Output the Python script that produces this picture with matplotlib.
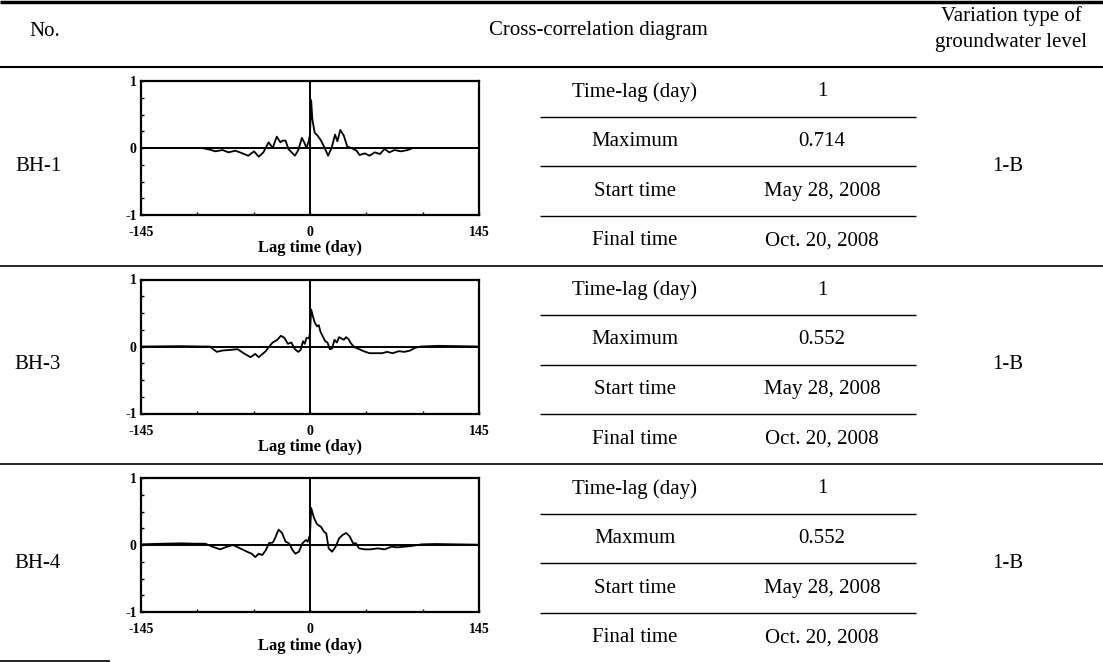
import matplotlib

matplotlib.use("Agg")
import matplotlib.pyplot as plt
from matplotlib.ticker import FixedLocator

plt.rcParams["font.family"] = ["Liberation Serif", "DejaVu Serif"]
plt.rcParams["axes.unicode_minus"] = False

# table contents
wells = ["BH-1", "BH-3", "BH-4"]
item_labels = [
    ["Time-lag (day)", "Maximum", "Start time", "Final time"],
    ["Time-lag (day)", "Maximum", "Start time", "Final time"],
    ["Time-lag (day)", "Maxmum", "Start time", "Final time"],
]
time_lag = ["1", "1", "1"]
maximum = ["0.714", "0.552", "0.552"]
start_time = ["May 28, 2008", "May 28, 2008", "May 28, 2008"]
final_time = ["Oct. 20, 2008", "Oct. 20, 2008", "Oct. 20, 2008"]
variation_type = ["1-B", "1-B", "1-B"]

# cross-correlation curves
bh1_lag = [-145, -93, -87, -81, -75, -70, -64, -58, -53, -48, -44, -40, -35.5, -32, -28.5, -25.5, -23.5,
           -21, -18.5, -13, -10, -7, -5, -3, -1, 0, 1, 2, 4, 6.5, 9.5, 13, 15.5, 18.5, 21.5, 23.5, 26,
           29, 32, 35.5, 40, 42.5, 47, 51, 55.5, 60, 64, 68, 72.5, 78, 84, 88, 92, 145]
bh1_ccf = [0.0, 0.0, -0.02, -0.05, -0.03, -0.065, -0.04, -0.08, -0.115, -0.05, -0.13, -0.065, 0.085, 0.0,
           0.17, 0.085, 0.11, 0.11, -0.015, -0.115, -0.03, 0.15, 0.085, 0.0, 0.11, 0.2, 0.714, 0.43, 0.23,
           0.185, 0.11, -0.015, -0.115, 0.0, 0.2, 0.1, 0.27, 0.185, 0.02, 0.0, -0.04, -0.105, -0.08,
           -0.115, -0.065, -0.09, -0.015, -0.065, -0.03, -0.05, -0.03, 0.0, 0.0, 0.0]

bh3_lag = [-145, -110, -93, -86, -80, -75, -68, -62, -57, -51, -47, -44, -38, -35, -32, -28, -25, -22,
           -19, -16, -13, -10, -8, -6, -4.5, -3, -1, 0, 1, 2.5, 4, 6, 7.5, 9, 11, 13, 15, 17, 19, 21, 23,
           25, 27, 29, 31, 33, 35, 38, 41, 46, 51, 56, 62, 66, 71, 76, 81, 86, 90, 95, 110, 145]
bh3_ccf = [0.0, 0.005, 0.0, 0.0, -0.08, -0.06, -0.05, -0.04, -0.1, -0.16, -0.11, -0.16, -0.07, 0.0, 0.06,
           0.1, 0.16, 0.13, 0.04, 0.06, -0.04, -0.08, -0.05, 0.08, 0.04, 0.13, 0.12, 0.2, 0.552, 0.45,
           0.36, 0.3, 0.32, 0.22, 0.15, 0.08, 0.06, -0.04, -0.03, 0.1, 0.06, 0.14, 0.12, 0.1, 0.14, 0.11,
           0.05, -0.01, -0.03, -0.07, -0.1, -0.1, -0.1, -0.08, -0.1, -0.07, -0.08, -0.06, -0.02, 0.0,
           0.01, 0.0]

bh4_lag = [-145, -125, -110, -100, -90, -83, -77, -72, -66, -60, -54, -50, -47, -44, -41, -38, -35, -32,
           -30, -27, -24, -21, -18, -15, -12.5, -9.5, -6.5, -3.5, -2, -1, 0, 1, 3.5, 6, 9.5, 12, 14, 16,
           19, 22, 25, 28, 31, 34, 37, 39.5, 42, 47, 52, 58, 64, 70, 75, 81, 87, 96, 107, 125, 145]
bh4_ccf = [0.01, 0.02, 0.025, 0.02, 0.02, -0.03, -0.065, -0.03, 0.0, -0.05, -0.1, -0.13, -0.18, -0.13,
           -0.15, -0.08, 0.03, 0.035, 0.1, 0.23, 0.18, 0.05, 0.025, -0.075, -0.13, -0.1, 0.025, 0.075,
           0.05, 0.1, 0.15, 0.552, 0.4, 0.31, 0.27, 0.2, 0.17, -0.05, -0.1, -0.025, 0.1, 0.15, 0.18, 0.13,
           0.025, 0.025, -0.05, -0.065, -0.065, -0.05, -0.065, -0.025, -0.035, -0.025, -0.015, 0.01,
           0.015, 0.01, 0.005]

curves = [(bh1_lag, bh1_ccf), (bh3_lag, bh3_ccf), (bh4_lag, bh4_ccf)]
lag_ticks = [-145, 0, 145]
lag_minor = [-96.7, -48.3, 48.3, 96.7]

W, H = 1103, 662
ROW_TOP = [67, 265.5, 464]
ROW_H = 198.5
TXT = 15


def draw_ccf(fig, top, lag, ccf):
    left, right, height = 141, 479, 134
    ax = fig.add_axes([left / W, 1 - (top + height) / H, (right - left) / W, height / H])
    ax.set_facecolor("none")
    ax.plot(lag, ccf, color="black", lw=1.3)
    ax.axhline(0, color="black", lw=1.4)
    ax.axvline(0, color="black", lw=1.4)
    ax.set_xlim(-145, 145)
    ax.set_ylim(-1, 1)
    ax.set_xticks(lag_ticks)
    ax.set_xticklabels([str(v) for v in lag_ticks])
    ax.xaxis.set_minor_locator(FixedLocator(lag_minor))
    ax.set_yticks([-1, 0, 1])
    ax.set_yticklabels(["-1", "0", "1"])
    ax.yaxis.set_minor_locator(FixedLocator([-0.75, -0.5, -0.25, 0.25, 0.5, 0.75]))
    ax.tick_params(which="both", direction="in", top=False, right=False, width=1.0)
    ax.tick_params(which="major", length=2.5, labelsize=10)
    ax.tick_params(which="minor", length=2.5)
    ax.tick_params(axis="x", pad=8)
    ax.tick_params(axis="y", pad=3)
    for lab in ax.get_xticklabels() + ax.get_yticklabels():
        lab.set_fontweight("bold")
    for sp in ax.spines.values():
        sp.set_linewidth(1.6)
    ax.set_xlabel("Lag time (day)", fontsize=12, fontweight="bold", labelpad=1)


def main():
    fig = plt.figure(figsize=(W / 100, H / 100), dpi=100)
    base = fig.add_axes([0, 0, 1, 1])
    base.set_xlim(0, W)
    base.set_ylim(H, 0)
    base.axis("off")

    # rules of the table
    base.hlines(2, 0, W, color="black", lw=2.5)
    base.hlines(ROW_TOP[0], 0, W, color="black", lw=1.5)
    for t in ROW_TOP[1:]:
        base.hlines(t, 0, W, color="black", lw=1.2)
    base.hlines(661, 0, 110, color="black", lw=1.2)

    # header
    base.text(45, 31, "No.", ha="center", va="center", fontsize=TXT)
    base.text(598, 31, "Cross-correlation diagram", ha="center", va="center", fontsize=TXT)
    base.text(1011, 16, "Variation type of", ha="center", va="center", fontsize=TXT)
    base.text(1011, 43, "groundwater level", ha="center", va="center", fontsize=TXT)

    sub_h = ROW_H / 4
    for i, well in enumerate(wells):
        top = ROW_TOP[i]
        mid = top + ROW_H / 2
        base.text(38, mid, well, ha="center", va="center", fontsize=TXT)
        base.text(1008, mid, variation_type[i], ha="center", va="center", fontsize=TXT)
        values = [time_lag[i], maximum[i], start_time[i], final_time[i]]
        for k in range(4):
            y = top + sub_h * (k + 0.5)
            base.text(635, y, item_labels[i][k], ha="center", va="center", fontsize=TXT)
            base.text(822, y, values[k], ha="center", va="center", fontsize=TXT)
            if k < 3:
                base.hlines(top + sub_h * (k + 1), 540, 916, color="black", lw=1.0)
        lag, ccf = curves[i]
        draw_ccf(fig, top + 14, lag, ccf)

    fig.savefig("out.png", dpi=100)
    plt.close(fig)


if __name__ == "__main__":
    main()
